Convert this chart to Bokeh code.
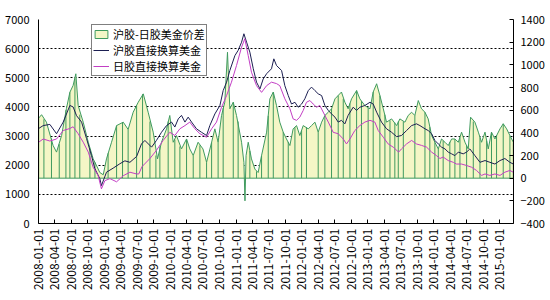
import numpy as np
import pandas as pd
from bokeh.plotting import figure
from bokeh.models import (Range1d, LinearAxis, FixedTicker, Legend, LegendItem,
                          DatetimeTickFormatter)
from bokeh.embed import file_html
from bokeh.resources import INLINE

# ---------------- data ----------------
# 沪胶直接换算美金 (left axis)
sh_dates = [
    "2008-01-02", "2008-01-27", "2008-03-04", "2008-04-10", "2008-05-17", "2008-06-23", "2008-07-11",
    "2008-07-30", "2008-08-27", "2008-09-23", "2008-10-21", "2008-11-08", "2008-12-06", "2008-12-15",
    "2009-01-12", "2009-02-18", "2009-03-27", "2009-04-24", "2009-05-22", "2009-06-28", "2009-07-25",
    "2009-08-13", "2009-09-19", "2009-10-16", "2009-11-13", "2009-12-11",
    "2010-01-08", "2010-01-26", "2010-02-14", "2010-03-04", "2010-03-23", "2010-04-10", "2010-04-29",
    "2010-05-26", "2010-06-23", "2010-07-21", "2010-08-08", "2010-09-05", "2010-10-03", "2010-10-21",
    "2010-11-09", "2010-11-27", "2010-12-25",
    "2011-01-12", "2011-01-31", "2011-02-13", "2011-02-28", "2011-03-18", "2011-04-06", "2011-04-24",
    "2011-05-13", "2011-05-31", "2011-06-19", "2011-07-16", "2011-07-29", "2011-08-13", "2011-09-10",
    "2011-09-28", "2011-10-17", "2011-11-04", "2011-11-23", "2011-12-11", "2011-12-30",
    "2012-01-17", "2012-02-05", "2012-02-23", "2012-03-13", "2012-03-31", "2012-04-19", "2012-05-07",
    "2012-05-26", "2012-06-13", "2012-07-02", "2012-07-20", "2012-08-07", "2012-08-26", "2012-09-13",
    "2012-10-11", "2012-10-30", "2012-11-17", "2012-12-15",
    "2013-01-12", "2013-01-30", "2013-02-18", "2013-03-17", "2013-04-14", "2013-05-12", "2013-06-09",
    "2013-07-06", "2013-08-03", "2013-08-31", "2013-09-27", "2013-10-16", "2013-11-13", "2013-12-01",
    "2013-12-20",
    "2014-01-07", "2014-01-26", "2014-02-13", "2014-03-04", "2014-03-22", "2014-04-10", "2014-04-28",
    "2014-05-17", "2014-06-13", "2014-07-02", "2014-07-20", "2014-08-17", "2014-09-14", "2014-10-12",
    "2014-11-08", "2014-12-06",
    "2015-01-03", "2015-01-30", "2015-02-27", "2015-03-18",
]
sh_vals = [
    3260, 3360, 3400, 3080, 3480, 4050, 4000, 3700, 3480, 2920, 2330, 1890, 1540, 1300,
    1760, 1900, 2050, 2150, 2100, 2300, 2730, 2850, 2620, 2850, 3130, 3360,
    3480, 3310, 3590, 3710, 3480, 3650, 3480, 3250, 3130, 3020, 3360, 3760, 4050, 4560, 4850, 5250, 5760,
    5940, 6220, 6510, 6220, 5880, 5310, 4850, 4620, 4960, 5140, 5310, 5650, 5420, 5250, 4730, 4390, 4100,
    4160, 3990, 4100,
    4280, 4560, 4680, 4560, 4450, 4390, 4050, 3880, 3760, 3650, 3480, 3540, 3420, 3710, 3990, 3880, 3990, 4050,
    4160, 4100, 3820, 3480, 3250, 3130, 2980, 3020, 3190, 3360, 3420, 3360, 3250, 3190, 3080,
    2850, 2730, 2620, 2560, 2450, 2390, 2330, 2450, 2390, 2450, 2560, 2330, 2100, 2160, 2100, 2040,
    2160, 2230, 2100, 2040,
]

# 日胶直接换算美金 (left axis)
jp_dates = [
    "2008-01-02", "2008-01-27", "2008-03-04", "2008-04-10", "2008-05-17", "2008-06-23", "2008-07-11",
    "2008-08-08", "2008-09-05", "2008-10-03", "2008-10-30", "2008-11-27", "2008-12-15",
    "2009-01-03", "2009-01-31", "2009-03-09", "2009-04-15", "2009-05-22", "2009-06-28", "2009-07-10",
    "2009-07-28", "2009-09-10", "2009-10-16", "2009-11-22", "2009-12-29",
    "2010-01-26", "2010-02-23", "2010-03-23", "2010-04-19", "2010-05-17", "2010-06-14", "2010-07-21",
    "2010-08-18", "2010-09-14", "2010-10-12", "2010-11-09", "2010-12-06",
    "2011-01-03", "2011-01-31", "2011-02-18", "2011-03-09", "2011-03-27", "2011-04-24", "2011-05-22",
    "2011-06-19", "2011-07-16", "2011-08-13", "2011-08-31", "2011-09-28", "2011-10-26", "2011-11-13",
    "2011-12-02", "2011-12-20",
    "2012-01-08", "2012-01-26", "2012-02-14", "2012-03-03", "2012-03-22", "2012-04-09", "2012-05-07",
    "2012-05-26", "2012-06-22", "2012-07-20", "2012-08-17", "2012-09-04", "2012-09-23", "2012-10-20",
    "2012-11-17", "2012-12-15",
    "2013-01-12", "2013-02-08", "2013-02-27", "2013-03-27", "2013-04-23", "2013-05-21", "2013-06-20",
    "2013-07-06", "2013-08-03", "2013-08-31", "2013-09-27", "2013-10-25", "2013-11-22", "2013-12-20",
    "2014-01-16", "2014-02-04", "2014-02-22", "2014-03-22", "2014-04-19", "2014-05-07", "2014-06-04",
    "2014-07-02", "2014-07-30", "2014-08-26", "2014-09-23", "2014-10-12", "2014-11-08", "2014-12-06",
    "2015-01-03", "2015-01-30", "2015-02-27", "2015-03-18",
]
jp_vals = [
    2790, 2900, 2830, 2900, 3190, 3260, 3320, 3080, 2790, 2450, 1930, 1640, 1190,
    1470, 1540, 1430, 1640, 1760, 1700, 1700, 1950, 2230, 2510, 2850, 3130,
    3020, 3250, 3360, 3480, 3250, 3080, 2960, 3250, 3480, 3990, 4390, 4850,
    5420, 6050, 6340, 5760, 5190, 4730, 4500, 4730, 4850, 4800, 4730, 4280, 3940, 3590, 3540, 3650,
    3880, 4160, 4220, 4100, 3990, 4050, 3710, 3480, 3130, 3080, 2900, 2730, 2900, 3190, 3360, 3480,
    3540, 3480, 3190, 2960, 2730, 2620, 2450, 2560, 2730, 2850, 2730, 2680, 2620, 2450,
    2330, 2230, 2280, 2160, 2100, 2040, 2040, 1990, 1930, 1820, 1650, 1700, 1650, 1700,
    1650, 1760, 1820, 1760,
]

# 沪胶-日胶美金价差 (right axis)
spread_dates = [
    "2008-01-02", "2008-01-18", "2008-02-14", "2008-03-22", "2008-04-10", "2008-05-08", "2008-06-04",
    "2008-06-23", "2008-07-11", "2008-07-26", "2008-08-08", "2008-09-05", "2008-10-03", "2008-10-30",
    "2008-11-18", "2008-12-06", "2008-12-25",
    "2009-01-12", "2009-02-09", "2009-03-09", "2009-04-15", "2009-05-12", "2009-06-09", "2009-07-07",
    "2009-08-04", "2009-08-31", "2009-09-28", "2009-10-22", "2009-11-13", "2009-12-11", "2009-12-29",
    "2010-01-17", "2010-02-04", "2010-03-04", "2010-04-01", "2010-04-19", "2010-05-08", "2010-06-04",
    "2010-07-01", "2010-07-21", "2010-08-18", "2010-09-05", "2010-09-23", "2010-10-12", "2010-10-30",
    "2010-11-14", "2010-11-27", "2010-12-16",
    "2011-01-03", "2011-01-31", "2011-02-13", "2011-02-19", "2011-02-25", "2011-03-09", "2011-03-27",
    "2011-04-15", "2011-05-03", "2011-05-22", "2011-06-19", "2011-07-07", "2011-07-26", "2011-08-13",
    "2011-08-31", "2011-09-19", "2011-10-07", "2011-10-26", "2011-11-13", "2011-12-02", "2011-12-20",
    "2012-01-08", "2012-02-05", "2012-02-23", "2012-03-13", "2012-03-31", "2012-04-19", "2012-05-07",
    "2012-05-26", "2012-06-13", "2012-07-02", "2012-07-20", "2012-08-07", "2012-08-26", "2012-09-13",
    "2012-10-02", "2012-10-30", "2012-11-17", "2012-12-15",
    "2013-01-12", "2013-01-30", "2013-02-18", "2013-03-08", "2013-03-27", "2013-04-14", "2013-05-12",
    "2013-06-09", "2013-06-27", "2013-07-25", "2013-08-12", "2013-08-31", "2013-09-18", "2013-10-07",
    "2013-10-25", "2013-11-13", "2013-12-01", "2013-12-20",
    "2014-01-07", "2014-01-26", "2014-02-13", "2014-03-04", "2014-03-22", "2014-04-10", "2014-04-28",
    "2014-05-17", "2014-06-04", "2014-06-23", "2014-07-11", "2014-07-24", "2014-08-17", "2014-09-05",
    "2014-09-23", "2014-10-12", "2014-10-30", "2014-11-17", "2014-12-06",
    "2015-01-03", "2015-01-21", "2015-02-09", "2015-02-27", "2015-03-18",
]
spread_vals = [
    530, 560, 494, 288, 230, 376, 615, 758, 818, 921, 640, 494, 317, 171, 110, 50, 30,
    170, 317, 464, 494, 430, 582, 670, 744, 582, 406, 170, 317, 435, 553,
    317, 376, 258, 346, 258, 200, 317, 258, 140, 317, 435, 317, 553, 670, 1111, 612, 670,
    553, 317, 140, -200, 200, 317, 170, 80, 50, 200, 406, 700, 760, 640, 494, 406, 346, 288, 435, 464, 376,
    464, 435, 464, 494, 406, 494, 553, 582, 612, 700, 730, 760, 670, 612, 700, 773, 700, 640,
    612, 760, 833, 730, 612, 494, 523, 464, 523, 494, 553, 582, 553, 685, 612, 582, 523, 376,
    317, 258, 346, 317, 288, 346, 346, 317, 406, 317, 258, 538, 494, 406, 317, 406, 258, 406, 346,
    435, 480, 435, 376, 317,
]

# days on which the spread drops to the zero line, with the height it drops from
drop_dates = [
    "2008-01-31", "2008-03-13", "2008-04-25", "2008-06-01", "2008-06-23", "2008-07-21", "2008-08-17",
    "2008-10-12", "2008-11-09", "2009-01-21", "2009-03-09", "2009-04-11", "2009-05-12", "2009-06-28",
    "2009-07-31", "2009-09-10", "2009-10-13", "2009-11-04", "2009-12-20", "2010-01-26", "2010-02-23",
    "2010-04-01", "2010-05-08", "2010-06-14", "2010-07-21", "2010-08-18", "2010-09-23", "2010-10-21",
    "2010-12-16", "2011-01-12", "2011-03-18", "2011-04-24", "2011-05-22", "2011-06-28", "2011-07-26",
    "2011-09-19", "2011-10-17", "2011-11-23", "2011-12-30", "2012-01-26", "2012-03-31", "2012-05-07",
    "2012-06-13", "2012-07-20", "2012-08-17", "2012-09-23", "2012-10-30", "2012-11-26", "2013-01-02",
    "2013-01-30", "2013-03-08", "2013-04-05", "2013-05-03", "2013-05-30", "2013-06-18", "2013-07-16",
    "2013-09-18", "2013-11-13", "2013-12-10", "2014-01-07", "2014-01-26", "2014-02-22", "2014-03-31",
    "2014-04-28", "2014-05-26", "2014-07-02", "2014-08-08", "2014-09-14", "2014-10-21", "2014-11-17",
    "2014-12-15", "2015-01-21", "2015-02-27",
]
drop_tops = [
    520, 350, 300, 600, 758, 880, 560, 260, 140, 220, 464, 494, 430, 640, 740, 500, 200, 280, 500, 340,
    280, 346, 200, 290, 140, 317, 317, 620, 670, 500, 240, 60, 200, 550, 760, 406, 320, 450, 420, 450,
    406, 553, 612, 730, 700, 660, 773, 680, 620, 760, 730, 560, 510, 490, 500, 500, 553, 582, 450, 317,
    258, 330, 320, 346, 360, 290, 500, 360, 330, 406, 380, 480, 376,
]

tick_labels = [
    "2008-01-01", "2008-04-01", "2008-07-01", "2008-10-01", "2009-01-01", "2009-04-01", "2009-07-01",
    "2009-10-01", "2010-01-01", "2010-04-01", "2010-07-01", "2010-10-01", "2011-01-01", "2011-04-01",
    "2011-07-01", "2011-10-01", "2012-01-01", "2012-04-01", "2012-07-01", "2012-10-01", "2013-01-01",
    "2013-04-01", "2013-07-01", "2013-10-01", "2014-01-01", "2014-04-01", "2014-07-01", "2014-10-01",
    "2015-01-01",
]
left_ticks = [0, 1000, 2000, 3000, 4000, 5000, 6000, 7000]
right_ticks = [-400, -200, 0, 200, 400, 600, 800, 1000, 1200, 1400]

names = ["沪胶-日胶美金价差", "沪胶直接换算美金", "日胶直接换算美金"]

# ---------------- styling ----------------
FILL = "#F4F6C6"
GREEN = "#3F9A5F"
NAVY = "#1C1F52"
MAGENTA = "#C23EC4"
FONT = "Noto Sans CJK SC"

sh_x = pd.to_datetime(sh_dates)
jp_x = pd.to_datetime(jp_dates)
sp_x = pd.to_datetime(spread_dates)
dr_x = pd.to_datetime(drop_dates)

x_start = pd.Timestamp("2008-01-01")
x_end = pd.Timestamp("2015-03-19")

p = figure(frame_width=475, frame_height=204, x_axis_type="datetime",
           x_range=Range1d(x_start, x_end), y_range=Range1d(0, 7000),
           output_backend="svg", toolbar_location=None,
           min_border_left=38, min_border_right=37, min_border_top=19, min_border_bottom=77)
p.outline_line_color = None
p.background_fill_color = "white"
p.border_fill_color = "white"
p.extra_y_ranges = {"r": Range1d(-400, 1400)}

# spread area (right axis)
poly_x = list(sp_x) + [sp_x[-1], sp_x[0]]
poly_y = list(spread_vals) + [0, 0]
area = p.patch(poly_x, poly_y, y_range_name="r", fill_color=FILL, line_color=GREEN, line_width=1)
p.segment(x0=dr_x, y0=[0] * len(drop_tops), x1=dr_x, y1=drop_tops, y_range_name="r",
          line_color=GREEN, line_width=1)

sh_line = p.line(sh_x, sh_vals, line_color=NAVY, line_width=1)
jp_line = p.line(jp_x, jp_vals, line_color=MAGENTA, line_width=1)

# axes
p.xaxis.ticker = FixedTicker(ticks=[pd.Timestamp(t).value / 1e6 for t in tick_labels])
p.xaxis.formatter = DatetimeTickFormatter(
    milliseconds="%Y-%m-%d", seconds="%Y-%m-%d", minsec="%Y-%m-%d", minutes="%Y-%m-%d",
    hourmin="%Y-%m-%d", hours="%Y-%m-%d", days="%Y-%m-%d", months="%Y-%m-%d", years="%Y-%m-%d")
p.xaxis.major_label_orientation = np.pi / 2
p.xaxis.major_tick_in = 4
p.xaxis.major_tick_out = 0
p.xaxis.minor_tick_line_color = None
p.xaxis.major_label_standoff = 5

p.yaxis.ticker = FixedTicker(ticks=left_ticks)
p.yaxis.major_tick_in = 0
p.yaxis.major_tick_out = 0
p.yaxis.minor_tick_line_color = None
p.yaxis.major_label_standoff = 9

raxis = LinearAxis(y_range_name="r", ticker=FixedTicker(ticks=right_ticks))
raxis.major_tick_in = 4
raxis.major_tick_out = 0
raxis.minor_tick_line_color = None
raxis.major_label_standoff = 7
p.add_layout(raxis, "right")

for ax in [p.xaxis[0], p.yaxis[0], raxis]:
    ax.axis_line_color = "black"
    ax.major_tick_line_color = "black"
    ax.major_label_text_color = "black"
    ax.major_label_text_font = FONT
    ax.major_label_text_font_size = "11px"
p.xaxis.major_label_text_font_size = "12px"

p.xgrid.visible = False
p.ygrid.ticker = FixedTicker(ticks=left_ticks[1:])
p.ygrid.grid_line_color = "black"
p.ygrid.grid_line_dash = "2 2"
p.ygrid.grid_line_width = 1

legend = Legend(items=[LegendItem(label=names[0], renderers=[area]),
                       LegendItem(label=names[1], renderers=[sh_line]),
                       LegendItem(label=names[2], renderers=[jp_line])],
                location=(53, 147))
legend.border_line_color = "black"
legend.border_line_width = 1
legend.background_fill_color = "white"
legend.background_fill_alpha = 1
legend.label_text_font = FONT
legend.label_text_font_size = "11px"
legend.label_text_line_height = 1.0
legend.label_text_color = "black"
legend.glyph_width = 16
legend.glyph_height = 10
legend.label_height = 11
legend.spacing = 0
legend.padding = 1
legend.margin = 0
legend.label_standoff = 4
p.add_layout(legend)

open("out.html", "w").write(file_html(p, INLINE))
